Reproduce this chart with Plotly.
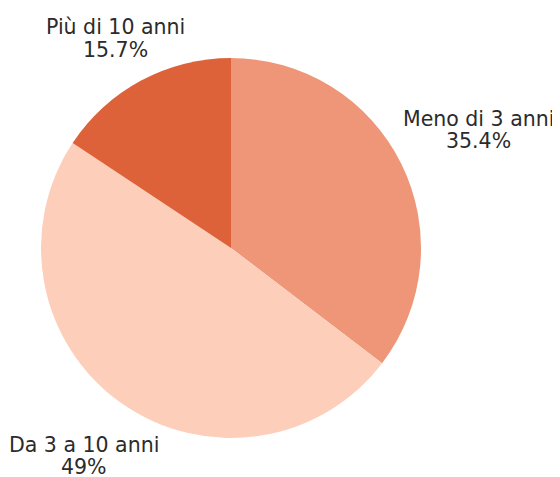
import plotly.graph_objects as go

labels = ["Meno di 3 anni", "Da 3 a 10 anni", "Più di 10 anni"]
values = [35.4, 49, 15.7]
value_text = ["35.4%", "49%", "15.7%"]
colors = ["#EE9677", "#FDCFBB", "#DD6239"]
# pixel centres (x, y of line 1, y of line 2) of each label block
label_pos = [(478, 118, 140), (83.5, 444, 465.5), (115.5, 26, 48.5)]

W, H = 560, 477
X_FIX = -8
Y_FIX = -7
font = dict(family="DejaVu Sans, sans-serif", size=20.5, color="#2b2b2b")

fig = go.Figure(go.Pie(
    labels=labels,
    values=values,
    marker=dict(colors=colors),
    sort=False,
    direction="clockwise",
    rotation=0,
    textinfo="none",
    hoverinfo="skip",
    automargin=False,
    domain=dict(x=[33 / W, 413 / W], y=[47 / H, 427 / H]),
    showlegend=False,
))
for lab, vt, (px, py1, py2) in zip(labels, value_text, label_pos):
    for txt, py in ((lab, py1), (vt, py2)):
        fig.add_annotation(
            x=(px + X_FIX) / W, y=1 - (py + Y_FIX) / H, xref="paper", yref="paper",
            text=txt, showarrow=False,
            xanchor="center", yanchor="middle", font=font,
        )
fig.update_layout(
    width=W, height=H,
    margin=dict(l=0, r=0, t=0, b=0),
    paper_bgcolor="white", plot_bgcolor="white",
)
fig.write_html("out.html")
